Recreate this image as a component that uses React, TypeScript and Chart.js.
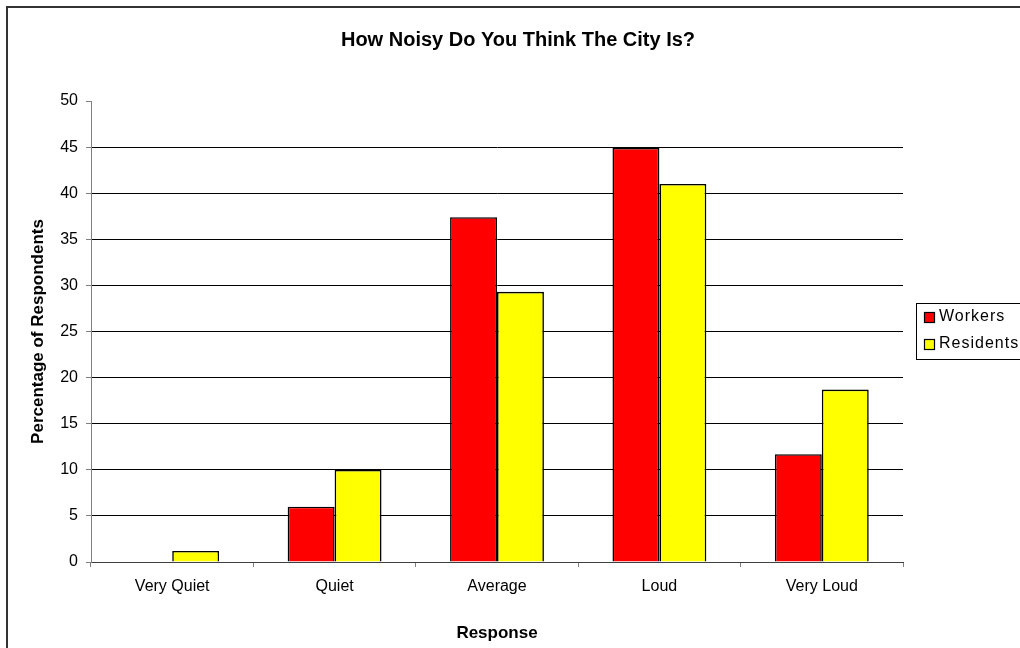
import React, { useEffect, useRef } from "react";
import { Chart, registerables } from "chart.js";

Chart.register(...registerables);

const chartTitle = "How Noisy Do You Think The City Is?";
const xAxisTitle = "Response";
const yAxisTitle = "Percentage of Respondents";
const categories = ["Very Quiet", "Quiet", "Average", "Loud", "Very Loud"];
const seriesNames = ["Workers", "Residents"];
const workers = [0, 6.0, 37.4, 44.9, 11.7];
const residents = [1.2, 10.0, 29.3, 41.0, 18.7];
const seriesColors = ["#FF0000", "#FFFF00"];
const yMin = 0;
const yMax = 50;
const yStep = 5;

const FONT = "'Liberation Sans', Arial, sans-serif";

const titlePlugin = {
  id: "customTitle",
  afterDraw(chart: any) {
    const ctx = chart.ctx;
    ctx.save();
    ctx.font = `bold 20px ${FONT}`;
    ctx.fillStyle = "#000";
    ctx.textAlign = "center";
    ctx.textBaseline = "middle";
    ctx.fillText(chartTitle, 518, 40);
    ctx.restore();
  },
};

const legendPlugin = {
  id: "customLegend",
  afterDraw(chart: any) {
    const ctx = chart.ctx;
    const left = 916;
    const top = 303.5;
    const bottom = 359.5;
    ctx.save();
    ctx.strokeStyle = "#000";
    ctx.lineWidth = 1;
    ctx.fillStyle = "#fff";
    ctx.fillRect(left, top, 200, bottom - top);
    ctx.strokeRect(left + 0.5, top, 200, bottom - top);
    const rows = [317.5, 344.5];
    chart.data.datasets.forEach((ds: any, i: number) => {
      const cy = rows[i];
      ctx.fillStyle = ds.backgroundColor;
      ctx.fillRect(924.5, cy - 5, 10, 10);
      ctx.strokeStyle = "#000";
      ctx.lineWidth = 1.2;
      ctx.strokeRect(924.5, cy - 5, 10, 10);
      ctx.fillStyle = "#000";
      ctx.font = `16px ${FONT}`;
      (ctx as any).letterSpacing = "1px";
      ctx.textAlign = "left";
      ctx.textBaseline = "middle";
      ctx.fillText(ds.label, 939, cy - 0.5);
    });
    ctx.restore();
  },
};

export default function App() {
  const canvasRef = useRef<HTMLCanvasElement | null>(null);

  useEffect(() => {
    if (!canvasRef.current) return;
    Chart.defaults.color = "#000";
    Chart.defaults.font.family = FONT;
    const chart = new Chart(canvasRef.current, {
      type: "bar",
      data: {
        labels: categories,
        datasets: [
          {
            label: seriesNames[0],
            data: workers,
            backgroundColor: seriesColors[0],
            borderColor: "#000",
            borderWidth: 1.6,
            categoryPercentage: 0.578,
            barPercentage: 1,
          },
          {
            label: seriesNames[1],
            data: residents,
            backgroundColor: seriesColors[1],
            borderColor: "#000",
            borderWidth: 1.6,
            categoryPercentage: 0.578,
            barPercentage: 1,
          },
        ],
      },
      options: {
        animation: false,
        responsive: false,
        maintainAspectRatio: false,
        layout: { padding: { top: 101, right: 117, bottom: 0, left: 0 } },
        plugins: {
          legend: { display: false },
          title: { display: false },
          tooltip: { enabled: false },
        },
        scales: {
          x: {
            afterFit: (scale: any) => {
              scale.height = 86;
            },
            grid: {
              offset: true,
              drawOnChartArea: false,
              drawTicks: true,
              tickLength: 5,
              color: "#808080",
            },
            border: { display: true, color: "#404040", width: 1 },
            ticks: {
              font: { size: 16, family: FONT },
              color: "#000",
              padding: 10,
              maxRotation: 0,
            },
            title: {
              display: true,
              text: xAxisTitle,
              font: { size: 17, weight: "bold", family: FONT },
              color: "#000",
              padding: { top: 0, bottom: 4 },
            },
          },
          y: {
            min: yMin,
            max: yMax,
            afterFit: (scale: any) => {
              scale.width = 91;
            },
            grid: {
              drawTicks: true,
              tickLength: 5,
              color: (c: any) =>
                c.tick && c.tick.value === yMax
                  ? "rgba(0,0,0,0)"
                  : c.tick && c.tick.value === yMin
                  ? "#404040"
                  : "#000",
              tickColor: "#808080",
            },
            border: { display: true, color: "#808080", width: 1 },
            ticks: {
              stepSize: yStep,
              font: { size: 16, family: FONT },
              color: "#000",
              padding: 8,
            },
            title: {
              display: true,
              text: yAxisTitle,
              font: { size: 17, weight: "bold", family: FONT },
              color: "#000",
              padding: { top: 28, bottom: 0 },
            },
          },
        },
      },
      plugins: [titlePlugin, legendPlugin],
    } as any);
    return () => chart.destroy();
  }, []);

  return (
    <div
      style={{
        position: "fixed",
        left: 0,
        top: 0,
        width: 1020,
        height: 648,
        overflow: "hidden",
        background: "#fff",
      }}
    >
      <div
        style={{
          position: "absolute",
          left: 6,
          top: 6,
          width: 1100,
          height: 700,
          border: "2px solid #333",
          boxSizing: "border-box",
        }}
      />
      <canvas
        ref={canvasRef}
        width={1020}
        height={648}
        style={{ position: "absolute", left: 0, top: 0, display: "block" }}
      />
    </div>
  );
}
